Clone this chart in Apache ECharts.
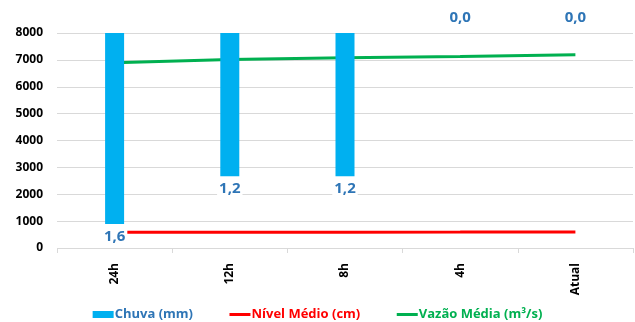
<!DOCTYPE html>
<html><head><meta charset="utf-8">
<script src="https://cdn.jsdelivr.net/npm/echarts@6/dist/echarts.min.js"></script>
<style>html,body{margin:0;padding:0;background:#fff}#c{width:635px;height:322px}</style>
</head><body><div id="c"></div>
<script>
var categories = ['24h', '12h', '8h', '4h', 'Atual'];
var chuva = [1.6, 1.2, 1.2, 0.0, 0.0];
var nivel = [585, 588, 590, 592, 595];
var vazao = [6890, 7010, 7080, 7130, 7190];
var yTicks = [0, 1000, 2000, 3000, 4000, 5000, 6000, 7000, 8000];

var FONT = 'Open Sans';
var chart = echarts.init(document.getElementById('c'));
chart.setOption({
  animation: false,
  textStyle: {fontFamily: FONT},
  grid: {left: 57, right: 2, top: 33, bottom: 74},
  legend: {
    top: 303, left: 'center', itemGap: 35, itemWidth: 21, itemHeight: 7,
    textStyle: {fontFamily: FONT, fontWeight: 'bold', fontSize: 13, padding: [0, 0, 0, -4]},
    data: [
      {name: 'Chuva (mm)', icon: 'rect', textStyle: {color: '#2E75B6'}},
      {name: 'Nível Médio (cm)', itemStyle: {opacity: 0}, lineStyle: {width: 3}, textStyle: {color: '#FF0000'}},
      {name: 'Vazão Média (m³/s)', itemStyle: {opacity: 0}, lineStyle: {width: 3}, textStyle: {color: '#00B050'}}
    ]
  },
  xAxis: {
    type: 'category', data: categories,
    axisLine: {show: false},
    axisTick: {show: true, length: 5, lineStyle: {color: '#D9D9D9'}},
    axisLabel: {rotate: 90, margin: 15, color: '#000', fontWeight: 'bold', fontSize: 12, fontFamily: FONT}
  },
  yAxis: [{
    type: 'value', min: yTicks[0], max: yTicks[yTicks.length - 1], interval: 1000,
    axisLine: {show: false}, axisTick: {show: false},
    splitLine: {lineStyle: {color: '#D9D9D9'}},
    axisLabel: {color: '#000', fontWeight: 'bold', fontSize: 12, margin: 14, fontFamily: FONT,
      formatter: function (v) { return String(v); }}
  }, {
    type: 'value', min: 0, max: 1.8, inverse: true, show: false,
    splitLine: {show: false}
  }],
  series: [{
    name: 'Chuva (mm)', type: 'bar', yAxisIndex: 1, barWidth: 19,
    itemStyle: {color: '#00B0F0'},
    data: chuva.map(function (v) {
      return {value: v, label: {position: v > 0 ? 'bottom' : 'top', distance: v > 0 ? 5 : 8}};
    }),
    label: {
      show: true, color: '#2E75B6', fontWeight: 'bold', fontSize: 15, fontFamily: FONT,
      backgroundColor: '#fff', padding: [0, 2],
      formatter: function (p) { return p.value.toFixed(1).replace('.', ','); }
    },
    z: 3
  }, {
    name: 'Nível Médio (cm)', type: 'line', data: nivel, symbol: 'none',
    lineStyle: {color: '#FF0000', width: 3}, itemStyle: {color: '#FF0000'}, z: 2
  }, {
    name: 'Vazão Média (m³/s)', type: 'line', data: vazao, symbol: 'none',
    lineStyle: {color: '#00B050', width: 3}, itemStyle: {color: '#00B050'}, z: 2
  }]
});
</script></body></html>
